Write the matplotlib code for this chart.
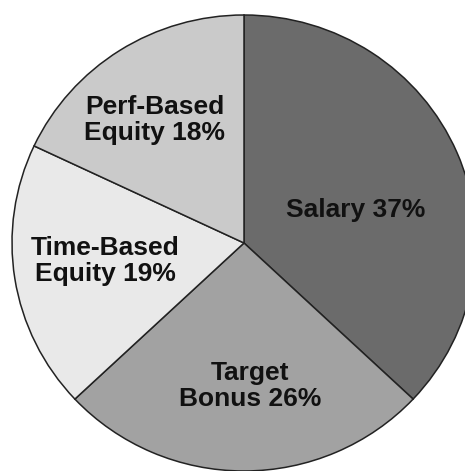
import matplotlib.pyplot as plt

labels = ["Salary 37%", "Target\nBonus 26%", "Time-Based\nEquity 19%", "Perf-Based\nEquity 18%"]
shares = [37, 26, 19, 18]
colors = ["#6b6b6b", "#a2a2a2", "#e9e9e9", "#cacaca"]

# label centres in pixel coords (x right, y down)
label_pos = [(356, 210), (250, 386), (105, 261), (155, 120)]

W, H = 465, 471
fig = plt.figure(figsize=(W / 100, H / 100), dpi=100)
ax = fig.add_axes([0, 0, 1, 1])

# the scanned pie is a touch wider than tall: rx 232 px, ry 228 px
cx, cy, rx, ry = 244, 243, 232, 228
ax.pie(shares, colors=colors, startangle=90, counterclock=False,
       radius=1, center=(0, 0),
       wedgeprops=dict(edgecolor="#222222", linewidth=1.1))
ax.set_aspect("auto")
ax.set_xlim(-cx / rx, (W - cx) / rx)
ax.set_ylim(-(H - cy) / ry, cy / ry)
ax.axis("off")

for lab, (x, y) in zip(labels, label_pos):
    fig.text(x / W, 1 - y / H, lab, ha="center", va="center", fontsize=19,
             fontweight="bold", family="Liberation Sans", color="#111111",
             linespacing=1.15)

fig.savefig("out.png", dpi=100)
